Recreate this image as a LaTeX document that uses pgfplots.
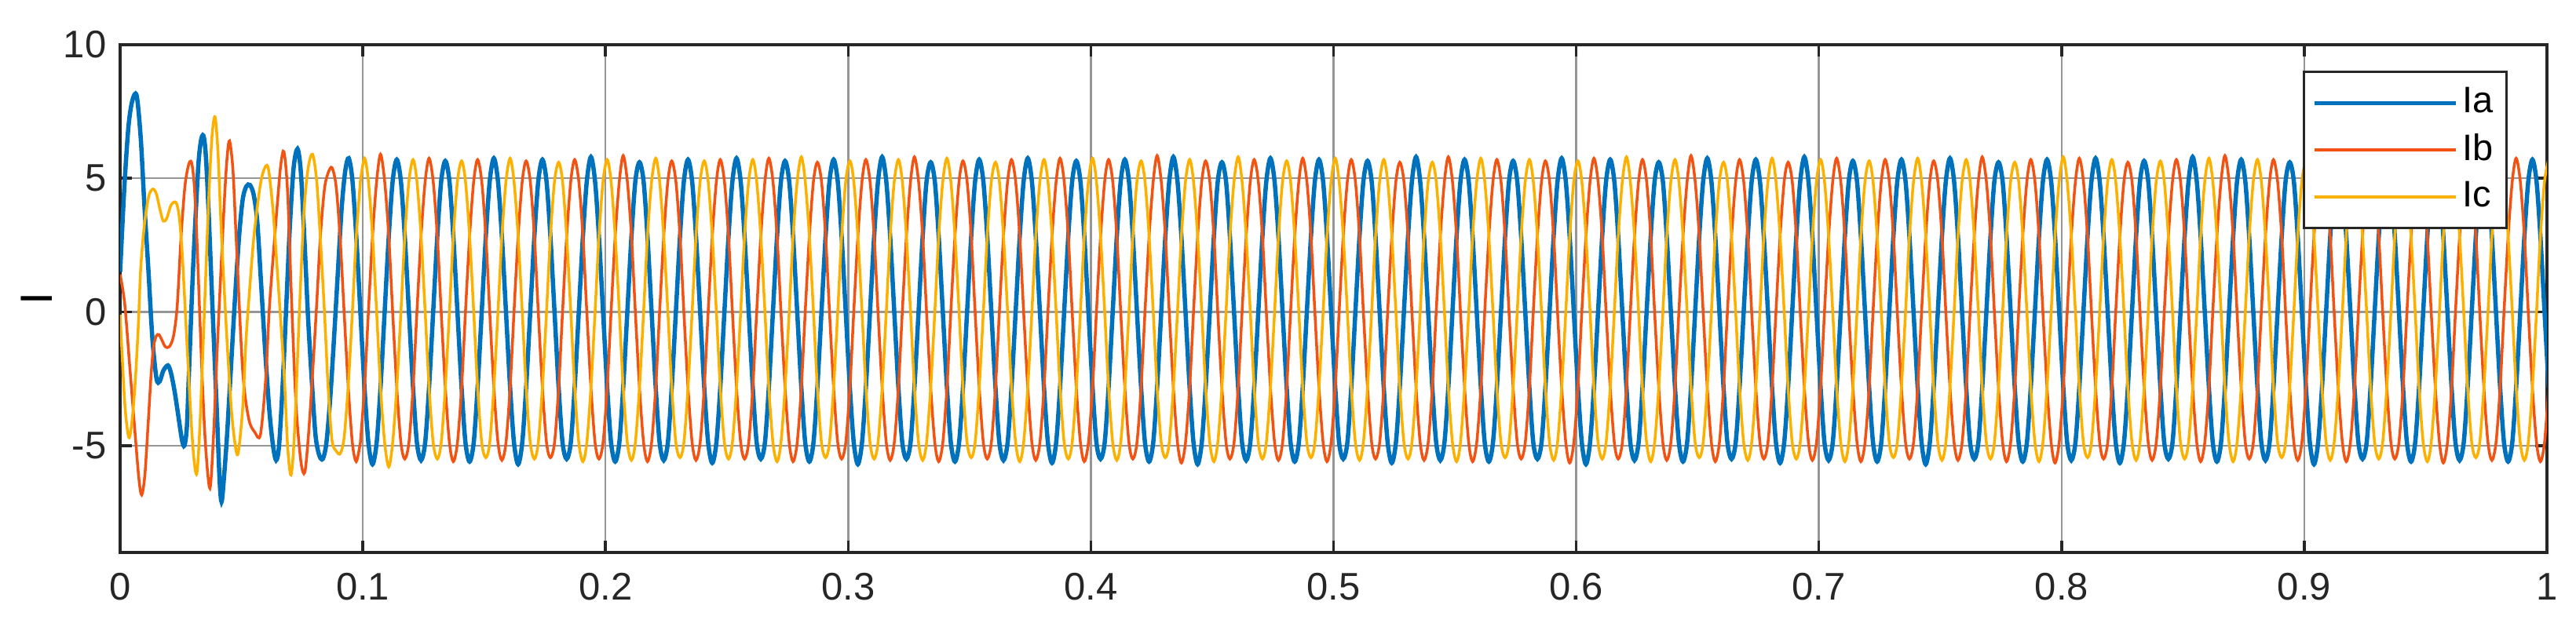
\documentclass[border=0pt]{standalone}
\usepackage{pgfplots}
\pgfplotsset{compat=1.18}
\usepackage{pgfplotstable}
\usepackage{fontspec}
\setmainfont{Liberation Sans}
\definecolor{cA}{RGB}{0,114,189}
\definecolor{cB}{RGB}{242,82,18}
\definecolor{cC}{RGB}{252,176,0}
\definecolor{axc}{RGB}{38,38,38}
\definecolor{grc}{RGB}{150,150,150}

\pgfplotstableread{
t ia ib ic
0.099 0 -4.89 4.89
0.1007 -2.83 -2.83 5.75
0.1023 -4.89 0 4.89
0.104 -5.7 2.83 2.83
0.1057 -4.89 4.89 0
0.1073 -2.83 5.9 -2.83
0.109 0 4.89 -4.89
0.1107 2.83 2.83 -5.8
0.1123 4.89 0 -4.89
0.114 5.7 -2.83 -2.83
0.1157 4.89 -4.89 0
0.1173 2.83 -5.5 2.83
0.119 0 -4.89 4.89
0.1207 -2.83 -2.83 5.7
0.1223 -4.89 0 4.89
0.124 -5.55 2.83 2.83
0.1257 -4.89 4.89 0
0.1273 -2.83 5.75 -2.83
0.129 0 4.89 -4.89
0.1307 2.83 2.83 -5.5
0.1323 4.89 0 -4.89
0.134 5.65 -2.83 -2.83
0.1357 4.89 -4.89 0
0.1373 2.83 -5.6 2.83
0.139 0 -4.89 4.89
0.1407 -2.83 -2.83 5.65
0.1423 -4.89 0 4.89
0.144 -5.6 2.83 2.83
0.1457 -4.89 4.89 0
0.1473 -2.83 5.7 -2.83
0.149 0 4.89 -4.89
0.1507 2.83 2.83 -5.45
0.1523 4.89 0 -4.89
0.154 5.75 -2.83 -2.83
0.1557 4.89 -4.89 0
0.1573 2.83 -5.55 2.83
0.159 0 -4.89 4.89
0.1607 -2.83 -2.83 5.75
0.1623 -4.89 0 4.89
0.164 -5.7 2.83 2.83
0.1657 -4.89 4.89 0
0.1673 -2.83 5.65 -2.83
0.169 0 4.89 -4.89
0.1707 2.83 2.83 -5.5
0.1723 4.89 0 -4.89
0.174 5.7 -2.83 -2.83
0.1757 4.89 -4.89 0
0.1773 2.83 -5.45 2.83
0.179 0 -4.89 4.89
0.1807 -2.83 -2.83 5.6
0.1823 -4.89 0 4.89
0.184 -5.5 2.83 2.83
0.1857 -4.89 4.89 0
0.1873 -2.83 5.7 -2.83
0.189 0 4.89 -4.89
0.1907 2.83 2.83 -5.6
0.1923 4.89 0 -4.89
0.194 5.8 -2.83 -2.83
0.1957 4.89 -4.89 0
0.1973 2.83 -5.5 2.83
0.199 0 -4.89 4.89
0.2007 -2.83 -2.83 5.7
0.2023 -4.89 0 4.89
0.204 -5.6 2.83 2.83
0.2057 -4.89 4.89 0
0.2073 -2.83 5.85 -2.83
0.209 0 4.89 -4.89
0.2107 2.83 2.83 -5.55
0.2123 4.89 0 -4.89
0.214 5.6 -2.83 -2.83
0.2157 4.89 -4.89 0
0.2173 2.83 -5.6 2.83
0.219 0 -4.89 4.89
0.2207 -2.83 -2.83 5.75
0.2223 -4.89 0 4.89
0.224 -5.55 2.83 2.83
0.2257 -4.89 4.89 0
0.2273 -2.83 5.65 -2.83
0.229 0 4.89 -4.89
0.2307 2.83 2.83 -5.45
0.2323 4.89 0 -4.89
0.234 5.7 -2.83 -2.83
0.2357 4.89 -4.89 0
0.2373 2.83 -5.55 2.83
0.239 0 -4.89 4.89
0.2407 -2.83 -2.83 5.65
0.2423 -4.89 0 4.89
0.244 -5.65 2.83 2.83
0.2457 -4.89 4.89 0
0.2473 -2.83 5.7 -2.83
0.249 0 4.89 -4.89
0.2507 2.83 2.83 -5.5
0.2523 4.89 0 -4.89
0.254 5.75 -2.83 -2.83
0.2557 4.89 -4.89 0
0.2573 2.83 -5.5 2.83
0.259 0 -4.89 4.89
0.2607 -2.83 -2.83 5.7
0.2623 -4.89 0 4.89
0.264 -5.5 2.83 2.83
0.2657 -4.89 4.89 0
0.2673 -2.83 5.75 -2.83
0.269 0 4.89 -4.89
0.2707 2.83 2.83 -5.6
0.2723 4.89 0 -4.89
0.274 5.65 -2.83 -2.83
0.2757 4.89 -4.89 0
0.2773 2.83 -5.6 2.83
0.279 0 -4.89 4.89
0.2807 -2.83 -2.83 5.8
0.2823 -4.89 0 4.89
0.284 -5.6 2.83 2.83
0.2857 -4.89 4.89 0
0.2873 -2.83 5.6 -2.83
0.289 0 4.89 -4.89
0.2907 2.83 2.83 -5.45
0.2923 4.89 0 -4.89
0.294 5.7 -2.83 -2.83
0.2957 4.89 -4.89 0
0.2973 2.83 -5.5 2.83
0.299 0 -4.89 4.89
0.3007 -2.83 -2.83 5.65
0.3023 -4.89 0 4.89
0.304 -5.7 2.83 2.83
0.3057 -4.89 4.89 0
0.3073 -2.83 5.7 -2.83
0.309 0 4.89 -4.89
0.3107 2.83 2.83 -5.5
0.3123 4.89 0 -4.89
0.314 5.8 -2.83 -2.83
0.3157 4.89 -4.89 0
0.3173 2.83 -5.55 2.83
0.319 0 -4.89 4.89
0.3207 -2.83 -2.83 5.7
0.3223 -4.89 0 4.89
0.324 -5.5 2.83 2.83
0.3257 -4.89 4.89 0
0.3273 -2.83 5.8 -2.83
0.329 0 4.89 -4.89
0.3307 2.83 2.83 -5.55
0.3323 4.89 0 -4.89
0.334 5.6 -2.83 -2.83
0.3357 4.89 -4.89 0
0.3373 2.83 -5.6 2.83
0.339 0 -4.89 4.89
0.3407 -2.83 -2.83 5.75
0.3423 -4.89 0 4.89
0.344 -5.6 2.83 2.83
0.3457 -4.89 4.89 0
0.3473 -2.83 5.65 -2.83
0.349 0 4.89 -4.89
0.3507 2.83 2.83 -5.45
0.3523 4.89 0 -4.89
0.354 5.7 -2.83 -2.83
0.3557 4.89 -4.89 0
0.3573 2.83 -5.5 2.83
0.359 0 -4.89 4.89
0.3607 -2.83 -2.83 5.6
0.3623 -4.89 0 4.89
0.364 -5.55 2.83 2.83
0.3657 -4.89 4.89 0
0.3673 -2.83 5.7 -2.83
0.369 0 4.89 -4.89
0.3707 2.83 2.83 -5.6
0.3723 4.89 0 -4.89
0.374 5.75 -2.83 -2.83
0.3757 4.89 -4.89 0
0.3773 2.83 -5.55 2.83
0.379 0 -4.89 4.89
0.3807 -2.83 -2.83 5.7
0.3823 -4.89 0 4.89
0.384 -5.65 2.83 2.83
0.3857 -4.89 4.89 0
0.3873 -2.83 5.75 -2.83
0.389 0 4.89 -4.89
0.3907 2.83 2.83 -5.5
0.3923 4.89 0 -4.89
0.394 5.65 -2.83 -2.83
0.3957 4.89 -4.89 0
0.3973 2.83 -5.6 2.83
0.399 0 -4.89 4.89
0.4007 -2.83 -2.83 5.75
0.4023 -4.89 0 4.89
0.404 -5.5 2.83 2.83
0.4057 -4.89 4.89 0
0.4073 -2.83 5.7 -2.83
0.409 0 4.89 -4.89
0.4107 2.83 2.83 -5.55
0.4123 4.89 0 -4.89
0.414 5.7 -2.83 -2.83
0.4157 4.89 -4.89 0
0.4173 2.83 -5.5 2.83
0.419 0 -4.89 4.89
0.4207 -2.83 -2.83 5.65
0.4223 -4.89 0 4.89
0.424 -5.6 2.83 2.83
0.4257 -4.89 4.89 0
0.4273 -2.83 5.85 -2.83
0.429 0 4.89 -4.89
0.4307 2.83 2.83 -5.45
0.4323 4.89 0 -4.89
0.434 5.8 -2.83 -2.83
0.4357 4.89 -4.89 0
0.4373 2.83 -5.65 2.83
0.439 0 -4.89 4.89
0.4407 -2.83 -2.83 5.7
0.4423 -4.89 0 4.89
0.444 -5.7 2.83 2.83
0.4457 -4.89 4.89 0
0.4473 -2.83 5.65 -2.83
0.449 0 4.89 -4.89
0.4507 2.83 2.83 -5.6
0.4523 4.89 0 -4.89
0.454 5.6 -2.83 -2.83
0.4557 4.89 -4.89 0
0.4573 2.83 -5.5 2.83
0.459 0 -4.89 4.89
0.4607 -2.83 -2.83 5.8
0.4623 -4.89 0 4.89
0.464 -5.55 2.83 2.83
0.4657 -4.89 4.89 0
0.4673 -2.83 5.7 -2.83
0.469 0 4.89 -4.89
0.4707 2.83 2.83 -5.5
0.4723 4.89 0 -4.89
0.474 5.75 -2.83 -2.83
0.4757 4.89 -4.89 0
0.4773 2.83 -5.55 2.83
0.479 0 -4.89 4.89
0.4807 -2.83 -2.83 5.65
0.4823 -4.89 0 4.89
0.484 -5.6 2.83 2.83
0.4857 -4.89 4.89 0
0.4873 -2.83 5.75 -2.83
0.489 0 4.89 -4.89
0.4907 2.83 2.83 -5.45
0.4923 4.89 0 -4.89
0.494 5.7 -2.83 -2.83
0.4957 4.89 -4.89 0
0.4973 2.83 -5.6 2.83
0.499 0 -4.89 4.89
0.5007 -2.83 -2.83 5.75
0.5023 -4.89 0 4.89
0.504 -5.5 2.83 2.83
0.5057 -4.89 4.89 0
0.5073 -2.83 5.7 -2.83
0.509 0 4.89 -4.89
0.5107 2.83 2.83 -5.55
0.5123 4.89 0 -4.89
0.514 5.65 -2.83 -2.83
0.5157 4.89 -4.89 0
0.5173 2.83 -5.5 2.83
0.519 0 -4.89 4.89
0.5207 -2.83 -2.83 5.7
0.5223 -4.89 0 4.89
0.524 -5.65 2.83 2.83
0.5257 -4.89 4.89 0
0.5273 -2.83 5.6 -2.83
0.529 0 4.89 -4.89
0.5307 2.83 2.83 -5.5
0.5323 4.89 0 -4.89
0.534 5.8 -2.83 -2.83
0.5357 4.89 -4.89 0
0.5373 2.83 -5.55 2.83
0.539 0 -4.89 4.89
0.5407 -2.83 -2.83 5.6
0.5423 -4.89 0 4.89
0.544 -5.55 2.83 2.83
0.5457 -4.89 4.89 0
0.5473 -2.83 5.8 -2.83
0.549 0 4.89 -4.89
0.5507 2.83 2.83 -5.6
0.5523 4.89 0 -4.89
0.554 5.7 -2.83 -2.83
0.5557 4.89 -4.89 0
0.5573 2.83 -5.6 2.83
0.559 0 -4.89 4.89
0.5607 -2.83 -2.83 5.75
0.5623 -4.89 0 4.89
0.564 -5.6 2.83 2.83
0.5657 -4.89 4.89 0
0.5673 -2.83 5.7 -2.83
0.569 0 4.89 -4.89
0.5707 2.83 2.83 -5.45
0.5723 4.89 0 -4.89
0.574 5.65 -2.83 -2.83
0.5757 4.89 -4.89 0
0.5773 2.83 -5.5 2.83
0.579 0 -4.89 4.89
0.5807 -2.83 -2.83 5.7
0.5823 -4.89 0 4.89
0.584 -5.5 2.83 2.83
0.5857 -4.89 4.89 0
0.5873 -2.83 5.65 -2.83
0.589 0 4.89 -4.89
0.5907 2.83 2.83 -5.55
0.5923 4.89 0 -4.89
0.594 5.75 -2.83 -2.83
0.5957 4.89 -4.89 0
0.5973 2.83 -5.65 2.83
0.599 0 -4.89 4.89
0.6007 -2.83 -2.83 5.65
0.6023 -4.89 0 4.89
0.604 -5.7 2.83 2.83
0.6057 -4.89 4.89 0
0.6073 -2.83 5.75 -2.83
0.609 0 4.89 -4.89
0.6107 2.83 2.83 -5.5
0.6123 4.89 0 -4.89
0.614 5.7 -2.83 -2.83
0.6157 4.89 -4.89 0
0.6173 2.83 -5.5 2.83
0.619 0 -4.89 4.89
0.6207 -2.83 -2.83 5.8
0.6223 -4.89 0 4.89
0.624 -5.55 2.83 2.83
0.6257 -4.89 4.89 0
0.6273 -2.83 5.7 -2.83
0.629 0 4.89 -4.89
0.6307 2.83 2.83 -5.6
0.6323 4.89 0 -4.89
0.634 5.6 -2.83 -2.83
0.6357 4.89 -4.89 0
0.6373 2.83 -5.55 2.83
0.639 0 -4.89 4.89
0.6407 -2.83 -2.83 5.7
0.6423 -4.89 0 4.89
0.644 -5.6 2.83 2.83
0.6457 -4.89 4.89 0
0.6473 -2.83 5.85 -2.83
0.649 0 4.89 -4.89
0.6507 2.83 2.83 -5.45
0.6523 4.89 0 -4.89
0.654 5.75 -2.83 -2.83
0.6557 4.89 -4.89 0
0.6573 2.83 -5.6 2.83
0.659 0 -4.89 4.89
0.6607 -2.83 -2.83 5.6
0.6623 -4.89 0 4.89
0.664 -5.5 2.83 2.83
0.6657 -4.89 4.89 0
0.6673 -2.83 5.7 -2.83
0.669 0 4.89 -4.89
0.6707 2.83 2.83 -5.55
0.6723 4.89 0 -4.89
0.674 5.7 -2.83 -2.83
0.6757 4.89 -4.89 0
0.6773 2.83 -5.5 2.83
0.679 0 -4.89 4.89
0.6807 -2.83 -2.83 5.75
0.6823 -4.89 0 4.89
0.684 -5.65 2.83 2.83
0.6857 -4.89 4.89 0
0.6873 -2.83 5.6 -2.83
0.689 0 4.89 -4.89
0.6907 2.83 2.83 -5.5
0.6923 4.89 0 -4.89
0.694 5.8 -2.83 -2.83
0.6957 4.89 -4.89 0
0.6973 2.83 -5.55 2.83
0.699 0 -4.89 4.89
0.7007 -2.83 -2.83 5.7
0.7023 -4.89 0 4.89
0.704 -5.55 2.83 2.83
0.7057 -4.89 4.89 0
0.7073 -2.83 5.75 -2.83
0.709 0 4.89 -4.89
0.7107 2.83 2.83 -5.6
0.7123 4.89 0 -4.89
0.714 5.65 -2.83 -2.83
0.7157 4.89 -4.89 0
0.7173 2.83 -5.6 2.83
0.719 0 -4.89 4.89
0.7207 -2.83 -2.83 5.65
0.7223 -4.89 0 4.89
0.724 -5.6 2.83 2.83
0.7257 -4.89 4.89 0
0.7273 -2.83 5.7 -2.83
0.729 0 4.89 -4.89
0.7307 2.83 2.83 -5.45
0.7323 4.89 0 -4.89
0.734 5.7 -2.83 -2.83
0.7357 4.89 -4.89 0
0.7373 2.83 -5.5 2.83
0.739 0 -4.89 4.89
0.7407 -2.83 -2.83 5.75
0.7423 -4.89 0 4.89
0.744 -5.7 2.83 2.83
0.7457 -4.89 4.89 0
0.7473 -2.83 5.65 -2.83
0.749 0 4.89 -4.89
0.7507 2.83 2.83 -5.55
0.7523 4.89 0 -4.89
0.754 5.75 -2.83 -2.83
0.7557 4.89 -4.89 0
0.7573 2.83 -5.55 2.83
0.759 0 -4.89 4.89
0.7607 -2.83 -2.83 5.7
0.7623 -4.89 0 4.89
0.764 -5.5 2.83 2.83
0.7657 -4.89 4.89 0
0.7673 -2.83 5.8 -2.83
0.769 0 4.89 -4.89
0.7707 2.83 2.83 -5.5
0.7723 4.89 0 -4.89
0.774 5.6 -2.83 -2.83
0.7757 4.89 -4.89 0
0.7773 2.83 -5.6 2.83
0.779 0 -4.89 4.89
0.7807 -2.83 -2.83 5.6
0.7823 -4.89 0 4.89
0.784 -5.6 2.83 2.83
0.7857 -4.89 4.89 0
0.7873 -2.83 5.7 -2.83
0.789 0 4.89 -4.89
0.7907 2.83 2.83 -5.6
0.7923 4.89 0 -4.89
0.794 5.7 -2.83 -2.83
0.7957 4.89 -4.89 0
0.7973 2.83 -5.65 2.83
0.799 0 -4.89 4.89
0.8007 -2.83 -2.83 5.8
0.8023 -4.89 0 4.89
0.804 -5.55 2.83 2.83
0.8057 -4.89 4.89 0
0.8073 -2.83 5.75 -2.83
0.809 0 4.89 -4.89
0.8107 2.83 2.83 -5.45
0.8123 4.89 0 -4.89
0.814 5.75 -2.83 -2.83
0.8157 4.89 -4.89 0
0.8173 2.83 -5.5 2.83
0.819 0 -4.89 4.89
0.8207 -2.83 -2.83 5.7
0.8223 -4.89 0 4.89
0.824 -5.65 2.83 2.83
0.8257 -4.89 4.89 0
0.8273 -2.83 5.6 -2.83
0.829 0 4.89 -4.89
0.8307 2.83 2.83 -5.55
0.8323 4.89 0 -4.89
0.834 5.65 -2.83 -2.83
0.8357 4.89 -4.89 0
0.8373 2.83 -5.55 2.83
0.839 0 -4.89 4.89
0.8407 -2.83 -2.83 5.65
0.8423 -4.89 0 4.89
0.844 -5.5 2.83 2.83
0.8457 -4.89 4.89 0
0.8473 -2.83 5.7 -2.83
0.849 0 4.89 -4.89
0.8507 2.83 2.83 -5.5
0.8523 4.89 0 -4.89
0.854 5.8 -2.83 -2.83
0.8557 4.89 -4.89 0
0.8573 2.83 -5.6 2.83
0.859 0 -4.89 4.89
0.8607 -2.83 -2.83 5.75
0.8623 -4.89 0 4.89
0.864 -5.6 2.83 2.83
0.8657 -4.89 4.89 0
0.8673 -2.83 5.85 -2.83
0.869 0 4.89 -4.89
0.8707 2.83 2.83 -5.6
0.8723 4.89 0 -4.89
0.874 5.7 -2.83 -2.83
0.8757 4.89 -4.89 0
0.8773 2.83 -5.5 2.83
0.879 0 -4.89 4.89
0.8807 -2.83 -2.83 5.7
0.8823 -4.89 0 4.89
0.884 -5.55 2.83 2.83
0.8857 -4.89 4.89 0
0.8873 -2.83 5.7 -2.83
0.889 0 4.89 -4.89
0.8907 2.83 2.83 -5.45
0.8923 4.89 0 -4.89
0.894 5.6 -2.83 -2.83
0.8957 4.89 -4.89 0
0.8973 2.83 -5.55 2.83
0.899 0 -4.89 4.89
0.9007 -2.83 -2.83 5.6
0.9023 -4.89 0 4.89
0.904 -5.7 2.83 2.83
0.9057 -4.89 4.89 0
0.9073 -2.83 5.65 -2.83
0.909 0 4.89 -4.89
0.9107 2.83 2.83 -5.55
0.9123 4.89 0 -4.89
0.914 5.75 -2.83 -2.83
0.9157 4.89 -4.89 0
0.9173 2.83 -5.6 2.83
0.919 0 -4.89 4.89
0.9207 -2.83 -2.83 5.75
0.9223 -4.89 0 4.89
0.924 -5.5 2.83 2.83
0.9257 -4.89 4.89 0
0.9273 -2.83 5.75 -2.83
0.929 0 4.89 -4.89
0.9307 2.83 2.83 -5.5
0.9323 4.89 0 -4.89
0.934 5.7 -2.83 -2.83
0.9357 4.89 -4.89 0
0.9373 2.83 -5.5 2.83
0.939 0 -4.89 4.89
0.9407 -2.83 -2.83 5.7
0.9423 -4.89 0 4.89
0.944 -5.6 2.83 2.83
0.9457 -4.89 4.89 0
0.9473 -2.83 5.7 -2.83
0.949 0 4.89 -4.89
0.9507 2.83 2.83 -5.6
0.9523 4.89 0 -4.89
0.954 5.65 -2.83 -2.83
0.9557 4.89 -4.89 0
0.9573 2.83 -5.65 2.83
0.959 0 -4.89 4.89
0.9607 -2.83 -2.83 5.65
0.9623 -4.89 0 4.89
0.964 -5.55 2.83 2.83
0.9657 -4.89 4.89 0
0.9673 -2.83 5.6 -2.83
0.969 0 4.89 -4.89
0.9707 2.83 2.83 -5.45
0.9723 4.89 0 -4.89
0.974 5.8 -2.83 -2.83
0.9757 4.89 -4.89 0
0.9773 2.83 -5.55 2.83
0.979 0 -4.89 4.89
0.9807 -2.83 -2.83 5.8
0.9823 -4.89 0 4.89
0.984 -5.6 2.83 2.83
0.9857 -4.89 4.89 0
0.9873 -2.83 5.75 -2.83
0.989 0 4.89 -4.89
0.9907 2.83 2.83 -5.55
0.9923 4.89 0 -4.89
0.994 5.7 -2.83 -2.83
0.9957 4.89 -4.89 0
0.9973 2.83 -5.6 2.83
0.999 0 -4.89 4.89
1.0007 -2.83 -2.83 5.7
}\steady

\begin{document}
\begin{tikzpicture}
\begin{axis}[
  scale only axis,
  width=618.2pt, height=129.4pt,
  at={(0,0)}, anchor=south west,
  xmin=0, xmax=1, ymin=-9, ymax=10,
  xtick={0,0.1,0.2,0.3,0.4,0.5,0.6,0.7,0.8,0.9,1},
  xticklabels={0,0.1,0.2,0.3,0.4,0.5,0.6,0.7,0.8,0.9,1},
  ytick={-5,0,5,10},
  yticklabels={-5,0,5,10},
  tick align=inside,
  major tick length=3pt,
  xmajorgrids, ymajorgrids,
  grid style={color=grc, line width=0.5pt},
  axis line style={color=axc, line width=0.7pt},
  tick style={color=axc, line width=0.7pt},
  ticklabel style={font=\fontsize{9.8}{11}\selectfont, text=axc},
  xticklabel style={yshift=-1.8pt},
  ylabel={I},
  ylabel style={font=\fontsize{11.5}{13}\selectfont, text=black, at={(axis description cs:-0.0343,0.5)}, anchor=center},
  legend style={at={(rel axis cs:1,1)}, anchor=north east, xshift=-10pt, yshift=-6.6pt,
    draw=axc, line width=0.6pt, fill=white,
    font=\fontsize{9.4}{10}\selectfont, text=black,
    row sep=1.2pt, inner xsep=2pt, inner ysep=2.7pt,
    nodes={inner sep=1.3pt}},
  legend cell align=left,
  legend image code/.code={\draw[#1] (0pt,0pt) -- (36pt,0pt);},
]
% transient parts
\addplot[cA, line width=1.1pt, smooth, forget plot] coordinates {
(0,1.5)(0.0017,4.6)(0.0034,6.9)(0.005,7.9)(0.0068,8.1)(0.0085,6.5)(0.01,4.0)(0.0117,1.5)(0.0133,-1.0)(0.015,-2.5)(0.0163,-2.6)(0.0178,-2.2)(0.0197,-2.0)(0.021,-2.3)(0.0225,-3.0)(0.024,-3.9)(0.0255,-4.8)(0.0265,-5.0)(0.0275,-4.3)(0.0284,-2.2)(0.03,1.5)(0.0321,5.3)(0.0333,6.4)(0.0343,6.6)(0.0352,6.0)(0.0362,4.3)(0.038,0.3)(0.0398,-3.6)(0.041,-6.3)(0.0418,-7.1)(0.0427,-6.3)(0.044,-4.7)(0.0456,-2.2)(0.0472,0.3)(0.049,2.8)(0.0505,4.2)(0.052,4.7)(0.0535,4.75)(0.055,4.4)(0.0565,3.4)(0.058,1.2)(0.0598,-1.5)(0.0615,-3.7)(0.063,-5.0)(0.0643,-5.55)(0.0655,-5.0)(0.067,-2.7)(0.0685,0.3)(0.07,3.3)(0.0715,5.4)(0.0731,6.1)(0.0745,5.2)(0.076,2.6)(0.0775,-0.3)(0.079,-2.6)(0.0805,-4.6)(0.082,-5.35)(0.0835,-5.5)(0.085,-4.9)(0.0866,-3.2)(0.0882,-0.9)(0.0898,1.6)(0.0913,3.9)(0.0928,5.3)(0.0942,5.75)(0.0957,4.95)(0.0973,2.85)(0.099,0)
};
\addplot[cB, line width=0.7pt, smooth, forget plot] coordinates {
(0,1.4)(0.0019,0.3)(0.0041,-2.2)(0.0063,-4.7)(0.0078,-6.3)(0.0089,-6.85)(0.0102,-6.1)(0.0116,-4.1)(0.0128,-2.3)(0.0138,-1.3)(0.0149,-0.9)(0.016,-0.85)(0.0172,-1.05)(0.0186,-1.3)(0.0203,-1.3)(0.022,-0.9)(0.0235,0.2)(0.0251,2.8)(0.0267,4.7)(0.0282,5.5)(0.0294,5.6)(0.0305,4.8)(0.0316,2.8)(0.0337,-2.2)(0.0352,-5.0)(0.037,-6.6)(0.0385,-4.6)(0.0402,-1.0)(0.0429,4.06)(0.0441,5.8)(0.0451,6.4)(0.0465,5.3)(0.0478,2.8)(0.0505,-2.2)(0.053,-4.0)(0.0555,-4.5)(0.0578,-4.6)(0.06,-2.5)(0.0616,0.3)(0.0648,4.06)(0.0662,5.5)(0.0675,6.0)(0.069,4.5)(0.0707,0.3)(0.0725,-3.5)(0.0745,-5.6)(0.0761,-6.0)(0.0777,-4.5)(0.0795,-2.0)(0.081,0.3)(0.0825,2.8)(0.0842,4.6)(0.0857,5.2)(0.0873,5.4)(0.089,4.7)(0.0907,2.7)(0.0923,0)(0.094,-2.8)(0.0957,-4.9)(0.0973,-5.6)(0.099,-4.89)
};
\addplot[cC, line width=0.7pt, smooth, forget plot] coordinates {
(0,-0.1)(0.0019,-3.4)(0.0036,-4.7)(0.005,-4.0)(0.0063,-2.5)(0.0075,-0.5)(0.0084,1.5)(0.0095,2.8)(0.0106,3.7)(0.012,4.4)(0.0136,4.6)(0.015,4.4)(0.0165,3.8)(0.0178,3.4)(0.0192,3.5)(0.021,4.0)(0.023,4.1)(0.0243,3.6)(0.0255,2.3)(0.0267,0.3)(0.0289,-3.5)(0.0303,-5.4)(0.0316,-6.05)(0.0328,-4.4)(0.0343,-1.0)(0.0364,4.0)(0.0378,6.5)(0.0391,7.3)(0.0403,6.0)(0.0418,2.8)(0.044,-1.0)(0.0458,-3.6)(0.0473,-4.9)(0.0486,-5.3)(0.0505,-3.6)(0.0519,-1.0)(0.0535,1.0)(0.0551,2.8)(0.0575,4.6)(0.0592,5.3)(0.061,5.4)(0.063,3.8)(0.0648,1.5)(0.0675,-2.2)(0.069,-5.0)(0.0704,-6.1)(0.0718,-4.6)(0.074,0.3)(0.0758,3.8)(0.0775,5.4)(0.0793,5.9)(0.081,4.9)(0.0826,2.6)(0.0842,0)(0.0857,-2.8)(0.0873,-4.8)(0.089,-5.2)(0.0907,-5.3)(0.0923,-4.7)(0.094,-2.75)(0.0957,0)(0.0973,2.8)(0.099,4.89)
};
% steady state
\addplot[cA, line width=1.1pt, smooth] table[x=t, y=ia] {\steady};
\addlegendentry{Ia}
\addplot[cB, line width=0.7pt, smooth] table[x=t, y=ib] {\steady};
\addlegendentry{Ib}
\addplot[cC, line width=0.7pt, smooth] table[x=t, y=ic] {\steady};
\addlegendentry{Ic}
\end{axis}
\path (-30.6pt,-21.8pt) rectangle (625.6pt,140.8pt);
\end{tikzpicture}
\end{document}
